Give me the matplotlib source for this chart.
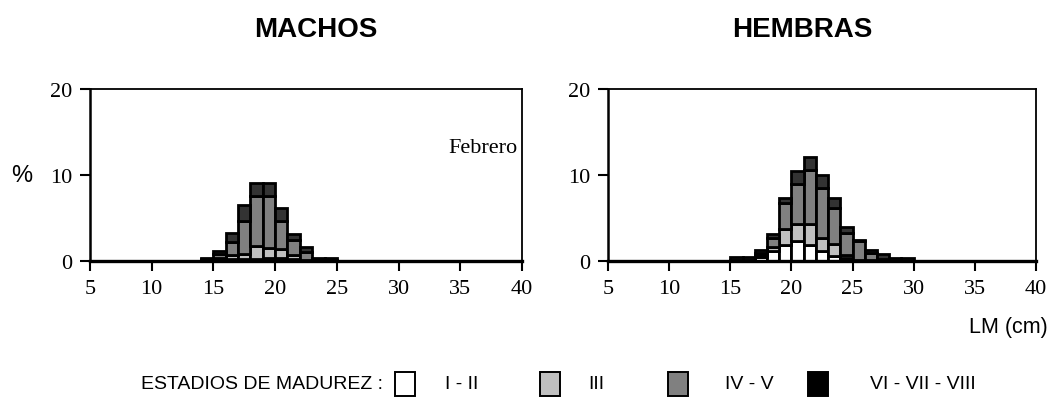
import numpy as np
import matplotlib.pyplot as plt
from matplotlib.patches import Rectangle
from matplotlib import font_manager

# size classes (left edge of each 1 cm bin, LM in cm)
machos_bins = [14, 15, 16, 17, 18, 19, 20, 21, 22, 23, 24]
machos_I_II = [0.05, 0.1, 0.2, 0.2, 0.2, 0.3, 0.3, 0.2, 0.05, 0.0, 0.0]
machos_III = [0.05, 0.3, 0.5, 0.6, 1.6, 1.2, 1.1, 0.5, 0.1, 0.0, 0.0]
machos_IV_V = [0.1, 0.4, 1.5, 3.8, 5.8, 6.1, 3.3, 1.8, 0.9, 0.1, 0.1]
machos_VI_VIII = [0.2, 0.4, 1.1, 1.9, 1.5, 1.5, 1.5, 0.6, 0.6, 0.3, 0.3]

hembras_bins = [15, 16, 17, 18, 19, 20, 21, 22, 23, 24, 25, 26, 27, 28, 29]
hembras_I_II = [0.0, 0.0, 0.45, 1.15, 1.85, 2.3, 1.9, 1.15, 0.6, 0.3, 0.0, 0.0, 0.0, 0.0, 0.0]
hembras_III = [0.0, 0.0, 0.3, 0.45, 1.9, 2.0, 2.4, 1.5, 1.35, 0.45, 0.1, 0.1, 0.0, 0.0, 0.0]
hembras_IV_V = [0.1, 0.1, 0.2, 1.1, 3.0, 4.7, 6.3, 5.8, 4.2, 2.5, 2.2, 0.8, 0.2, 0.0, 0.0]
hembras_VI_VIII = [0.4, 0.4, 0.3, 0.4, 0.6, 1.5, 1.5, 1.5, 1.15, 0.65, 0.1, 0.4, 0.6, 0.3, 0.3]

stage_labels = ['I - II', 'III', 'IV - V', 'VI - VII - VIII']
stage_colors = ['white', '#c0c0c0', '#808080', '#333333']
legend_colors = ['white', '#c0c0c0', '#808080', 'black']

x_ticks = [5, 10, 15, 20, 25, 30, 35, 40]
y_ticks = [0, 10, 20]

SERIF = 'Liberation Serif'
SANS = 'Liberation Sans'
names = {f.name for f in font_manager.fontManager.ttflist}
NARROW = 'Liberation Sans Narrow' if 'Liberation Sans Narrow' in names else SANS
NARROW_SIZE = 17 if NARROW != SANS else 14


def draw_panel(ax, bins, stages):
    bottom = np.zeros(len(bins))
    for vals, col in zip(stages, stage_colors):
        vals = np.array(vals)
        ax.bar(bins, vals, width=1, align='edge', bottom=bottom, color=col,
               edgecolor='black', linewidth=2.0)
        bottom += vals
    ax.set_xlim(5, 40)
    ax.set_ylim(0, 20)
    ax.set_xticks(x_ticks)
    ax.set_yticks(y_ticks)
    ax.tick_params(direction='out', length=7, width=1.5, pad=6,
                   labelsize=16)
    for lab in ax.get_xticklabels() + ax.get_yticklabels():
        lab.set_fontfamily(SERIF)
    for sp in ax.spines.values():
        sp.set_linewidth(1.3)
    ax.spines['bottom'].set_linewidth(2.4)
    ax.spines['left'].set_linewidth(1.8)


fig = plt.figure(figsize=(10.56, 4.10), dpi=100)
ax1 = fig.add_axes([90 / 1056, 148 / 410, 432 / 1056, 172 / 410])
ax2 = fig.add_axes([608 / 1056, 148 / 410, 428 / 1056, 172 / 410])

draw_panel(ax1, machos_bins, [machos_I_II, machos_III, machos_IV_V, machos_VI_VIII])
draw_panel(ax2, hembras_bins, [hembras_I_II, hembras_III, hembras_IV_V, hembras_VI_VIII])

fig.text(316 / 1056, 1 - 30 / 410, 'MACHOS', ha='center', va='center',
         fontsize=20, fontweight='bold', family=SANS)
fig.text(802 / 1056, 1 - 30 / 410, 'HEMBRAS', ha='center', va='center',
         fontsize=20, fontweight='bold', family=SANS)
ax1.text(0.99, 0.66, 'Febrero', transform=ax1.transAxes, ha='right',
         va='center', fontsize=16, family=SERIF)
fig.text(22 / 1056, 1 - 176 / 410, '%', ha='center', va='center',
         fontsize=17, family=SANS)
fig.text(1048 / 1056, 1 - 327 / 410, 'LM (cm)', ha='right', va='center',
         fontsize=15.5, family=SANS)

# legend row
ly = 1 - 385 / 410
fig.text(383 / 1056, ly, 'ESTADIOS DE MADUREZ :', ha='right', va='center',
         fontsize=NARROW_SIZE, family=NARROW)
box_x = [395, 540, 668, 808]
text_x = [445, 588, 725, 870]
for bx, tx, col, lab in zip(box_x, text_x, legend_colors, stage_labels):
    fig.add_artist(Rectangle((bx / 1056, ly - 12 / 410), 20 / 1056, 24 / 410,
                             transform=fig.transFigure, facecolor=col,
                             edgecolor='black', linewidth=1.4))
    fig.text(tx / 1056, ly, lab, ha='left', va='center',
             fontsize=NARROW_SIZE, family=NARROW)

fig.savefig('out.png', dpi=100)
